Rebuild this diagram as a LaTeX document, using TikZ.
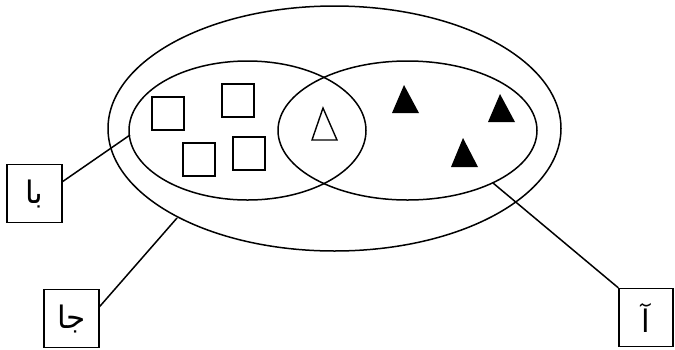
\documentclass[tikz,border=0pt]{standalone}
\usepackage{fontspec}
\usetikzlibrary{shapes.geometric}
\TeXXeTstate=1
\newfontfamily\arabicfont[Script=Arabic]{DejaVu Sans}
\begin{document}
\begin{tikzpicture}[x=1pt,y=-1pt,
  set/.style={draw,ellipse,line width=1.5pt,inner sep=0pt},
  labelbox/.style={draw,line width=1.3pt,minimum width=55pt,minimum height=58pt,inner sep=0pt,font=\arabicfont\fontsize{31}{36}\selectfont},
  sq/.style={draw,line width=1.4pt,minimum width=32pt,minimum height=33pt,inner sep=0pt},
  leader/.style={line width=1.5pt},
  tri/.style={line width=1.4pt}]
\useasboundingbox (0,0) rectangle (675,349);
\fill[white] (0,0) rectangle (675,349);
% sets
\node[set,minimum width=453pt,minimum height=245pt] (outer) at (334.5,128.5) {};
\node[set,minimum width=237pt,minimum height=139pt] (lefte) at (247.5,130.5) {};
\node[set,minimum width=259pt,minimum height=139pt] (righte) at (407.5,130.5) {};
% squares
\node[sq] (s1) at (168,113.5) {};
\node[sq] (s2) at (238,100.5) {};
\node[sq] (s3) at (199,159.5) {};
\node[sq] (s4) at (249,153.5) {};
% outlined triangle
\draw[tri] (323,108) -- (337,140) -- (312,140) -- cycle;
% filled triangles
\fill (404,85) -- (419,113) -- (392,113) -- cycle;
\fill (500,94) -- (515,122) -- (488,122) -- cycle;
\fill (463,138) -- (478,167) -- (451,167) -- cycle;
% label boxes
\node[labelbox] (boxB) at (34.5,193.5) {\beginR با\endR};
\node[labelbox] (boxJ) at (71.5,318.5) {\beginR جا\endR};
\node[labelbox,minimum width=54pt] (boxA) at (646,317.5) {\beginR آ\endR};
% connector ends
\coordinate (pB) at (130,135);
\coordinate (pJ) at (177,218);
\coordinate (pA) at (493,183);
\draw[leader] (boxB.23) -- (pB);
\draw[leader] (boxJ.23) -- (pJ);
\draw[leader] (boxA.north west) -- (pA);
\end{tikzpicture}
\end{document}
